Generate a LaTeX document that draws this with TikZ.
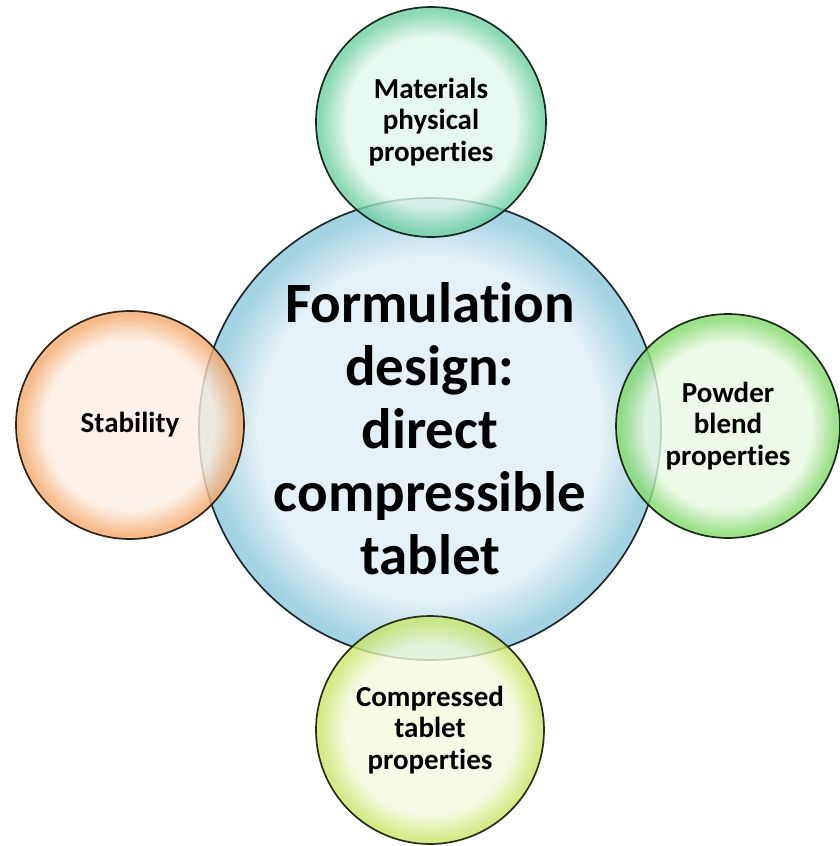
\documentclass[tikz,border=0pt]{standalone}
\usepackage{fontspec}
\setmainfont[Ligatures={NoCommon,NoContextual,NoRare}]{Carlito}
\usepackage{xcolor}

\definecolor{designin}{HTML}{DFEEF4}
\definecolor{designout}{HTML}{8CC8DC}
\definecolor{materialsin}{HTML}{E0F6EB}
\definecolor{materialsout}{HTML}{70D0A4}
\definecolor{stabilityin}{HTML}{FDEFE3}
\definecolor{stabilityout}{HTML}{F4AA70}
\definecolor{powderin}{HTML}{EAF9E3}
\definecolor{powderout}{HTML}{84D96E}
\definecolor{compressedin}{HTML}{F4FADD}
\definecolor{compressedout}{HTML}{CBE66C}
\colorlet{bubin}{white}
\colorlet{bubout}{gray}

% path bounding box = inner 50bp square, so the rim sits at 25bp
\pgfdeclareradialshading[bubin,bubout]{bubble}{\pgfpoint{0bp}{0bp}}{%
  color(0bp)=(bubin); color(18.5bp)=(bubin); color(24bp)=(bubout);
  color(25bp)=(bubout); color(50bp)=(bubout)}

\tikzset{
  bubcol/.code 2 args={\colorlet{bubin}{#1}\colorlet{bubout}{#2}},
  bubble/.style={circle, inner sep=0pt, align=center, shading=bubble,
    fill opacity=0.8, text opacity=1, line width=1.7pt,
    bubcol={#1in}{#1out}, draw=#1out!20!black,
    font=\bfseries\fontsize{29}{31.5}\selectfont},
}

\begin{document}
\begin{tikzpicture}[x=1pt,y=-1pt]
  \useasboundingbox (0,0) rectangle (840,846);
  % centre (the kerns keep t and i apart)
  \node [bubble=design, minimum size=462pt,
    font=\bfseries\fontsize{57}{63}\selectfont] (design) at (430,429)
    {Formulat\kern0pt ion\\design:\\direct\\compressible\\tablet};
  % satellites
  \node [bubble=materials, minimum size=230pt] (materials) at (431,122)
    {Materials\\physical\\propert\kern0pt ies};
  \node [bubble=stability, minimum size=228pt] (stability) at (130,425)
    {Stability};
  \node [bubble=powder, minimum size=224pt] (powder) at (728,426)
    {Powder\\blend\\propert\kern0pt ies};
  \node [bubble=compressed, minimum size=228pt] (compressed) at (430,730)
    {Compressed\\tablet\\propert\kern0pt ies};
\end{tikzpicture}
\end{document}
